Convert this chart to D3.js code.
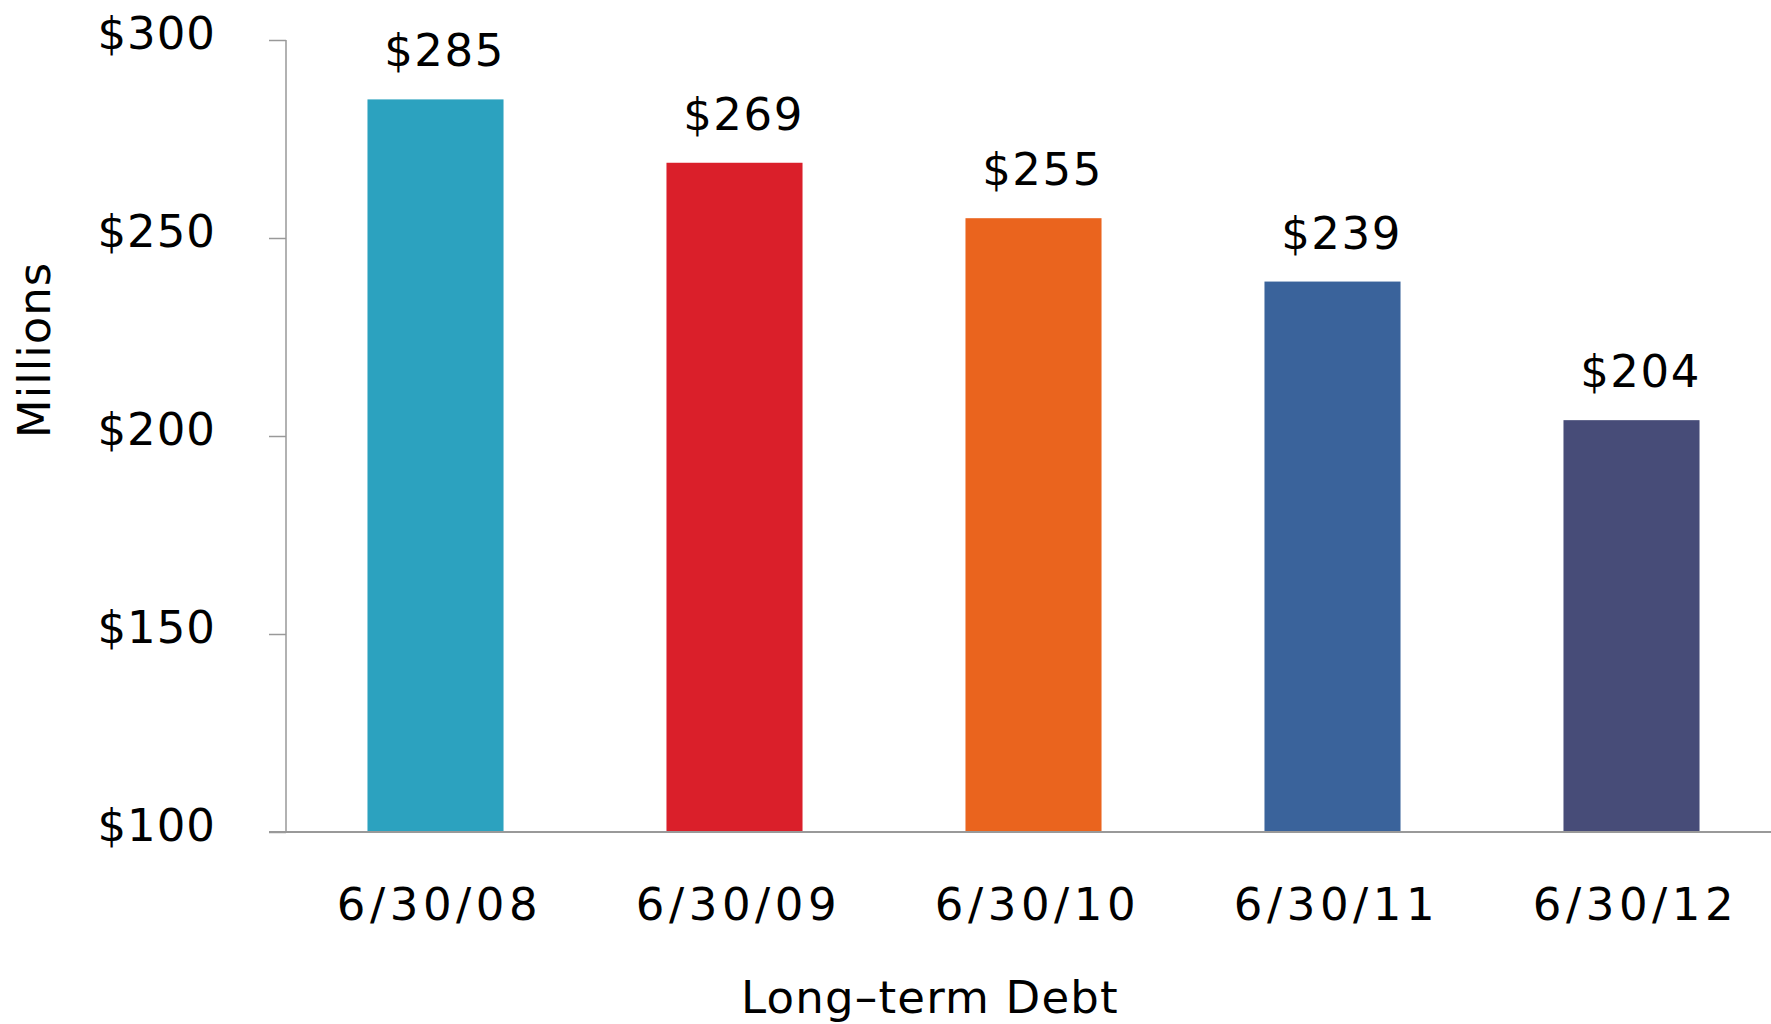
<!DOCTYPE html>
<html><head><meta charset="utf-8">
<script src="https://cdn.jsdelivr.net/npm/d3@7"></script>
<style>body{margin:0;background:#fff;} svg{display:block;}</style>
</head><body>
<script>
const categories = ["6/30/08","6/30/09","6/30/10","6/30/11","6/30/12"];
const values = [285,269,255,239,204];
const valueLabels = ["$285","$269","$255","$239","$204"];
const colors = ["#2CA2BF","#DA1F2A","#EA641E","#3A639B","#474C78"];
const yTicks = [100,150,200,250,300];
const yTickLabels = ["$100","$150","$200","$250","$300"];
const xTitle = "Long\u2013term Debt";
const yTitle = "Millions";

const W = 1771, H = 1024;
const svg = d3.select("body").append("svg").attr("width",W).attr("height",H);
const font = "DejaVu Sans";

const y = d3.scaleLinear().domain([100,300]).range([832,40]);
const x = d3.scaleBand().domain(categories).range([286,1781]).paddingInner(0.545).paddingOuter(0.2725);

// y axis
const yAxis = svg.append("g").attr("transform","translate(286,0)")
  .call(d3.axisLeft(y).tickValues(yTicks).tickSize(17).tickFormat((d,i)=>yTickLabels[i]));
yAxis.select(".domain").attr("stroke","#999").attr("stroke-width",1.5).attr("d","M0,"+y(300)+"V"+y(100));
yAxis.selectAll(".tick line").attr("stroke","#999").attr("stroke-width",1.5);
yAxis.selectAll(".tick text").attr("font-family",font).attr("font-size",45).attr("letter-spacing",1)
  .attr("fill","#000").attr("x",-70).attr("dy",0).attr("y",8);

// bars
svg.selectAll("rect.bar").data(values).join("rect").attr("class","bar")
  .attr("x",(d,i)=>x(categories[i])).attr("width",x.bandwidth())
  .attr("y",d=>y(d)).attr("height",d=>y(100)-y(d))
  .attr("fill",(d,i)=>colors[i]);

// x axis line
const xAxis = svg.append("g").attr("transform","translate(0,"+y(100)+")")
  .call(d3.axisBottom(x).tickSize(0).tickPadding(0));
xAxis.select(".domain").attr("stroke","#999").attr("stroke-width",2).attr("d","M269,0H1771");
xAxis.selectAll(".tick text").attr("font-family",font).attr("font-size",45).attr("letter-spacing",4.6)
  .attr("fill","#000").attr("dy",0).attr("dx",4).attr("y",88);

// value labels
svg.selectAll("text.val").data(values).join("text").attr("class","val")
  .attr("x",(d,i)=>x(categories[i])+x.bandwidth()/2+9)
  .attr("y",d=>y(d)-33)
  .attr("text-anchor","middle").attr("font-family",font).attr("font-size",45).attr("letter-spacing",1.5)
  .attr("fill","#000").text((d,i)=>valueLabels[i]);

// titles
svg.append("text").attr("x",930).attr("y",1013).attr("text-anchor","middle")
  .attr("font-family",font).attr("font-size",45).attr("letter-spacing",1.2).attr("fill","#000").text(xTitle);
svg.append("text").attr("transform","translate(50,350) rotate(-90)").attr("text-anchor","middle")
  .attr("font-family",font).attr("font-size",45).attr("letter-spacing",1).attr("fill","#000").text(yTitle);
</script>
</body></html>
